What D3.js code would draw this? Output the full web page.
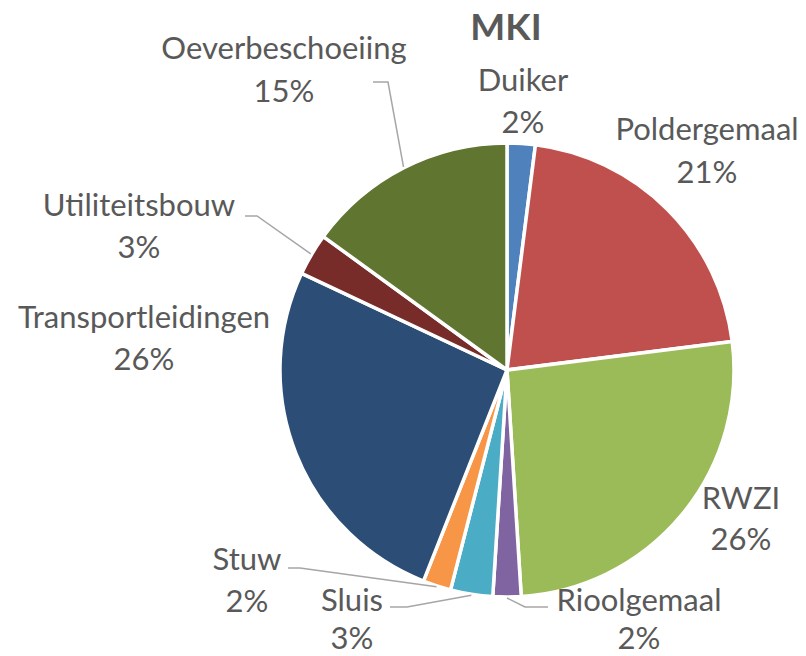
<!DOCTYPE html>
<html>
<head>
<meta charset="utf-8">
<script src="https://cdn.jsdelivr.net/npm/d3@7"></script>
<style>
  body { margin: 0; background: #fff; }
  text { font-family: Lato, "Open Sans", sans-serif; fill: #595959; }
</style>
</head>
<body>
<div class="chartContainer"></div>
<script>
// data
var categories = ['Duiker', 'Poldergemaal', 'RWZI', 'Rioolgemaal', 'Sluis', 'Stuw', 'Transportleidingen', 'Utiliteitsbouw', 'Oeverbeschoeiing']
var values = [2, 21, 26, 2, 3, 2, 26, 3, 15]
var colors = ['#4F81BD', '#C0504D', '#9BBB59', '#8064A2', '#4BACC6', '#F79646', '#2C4D75', '#772C2A', '#5F7530']

// label layout: [centre x, first baseline, line gap], optional leader start + bend
var labelPos = {
    'Duiker': { x: 523, y: 91, gap: 42 },
    'Poldergemaal': { x: 707, y: 140, gap: 43 },
    'RWZI': { x: 741, y: 509, gap: 41 },
    'Rioolgemaal': { x: 639, y: 611, gap: 38, lead: [[548, 607], [525, 607]] },
    'Sluis': { x: 352, y: 611, gap: 38, lead: [[390, 607], [407, 607]] },
    'Stuw': { x: 247, y: 570, gap: 42, lead: [[288, 568], [300, 568]] },
    'Transportleidingen': { x: 144, y: 328, gap: 42 },
    'Utiliteitsbouw': { x: 139, y: 216, gap: 42, lead: [[245, 216], [257, 216]] },
    'Oeverbeschoeiing': { x: 284, y: 59, gap: 43, lead: [[373, 82], [388, 82]] }
}

var width = 806, height = 656
var cx = 507, cy = 370, r = 227

var svg = d3.select('.chartContainer')
    .append('svg')
    .attr('width', width)
    .attr('height', height)

var total = d3.sum(values)
var pie = d3.pie().sort(null).value(function (d) { return d.value })
var arcs = pie(categories.map(function (c, i) { return { name: c, value: values[i], color: colors[i] } }))

var arc = d3.arc().innerRadius(0).outerRadius(r)
var edge = d3.arc().innerRadius(r + 1).outerRadius(r + 1)

var g = svg.append('g').attr('transform', 'translate(' + cx + ',' + cy + ')')

// slices
g.selectAll('path.slice')
    .data(arcs)
    .enter()
    .append('path')
    .classed('slice', true)
    .attr('d', arc)
    .attr('fill', function (d) { return d.data.color })
    .attr('stroke', '#fff')
    .attr('stroke-width', 3.5)
    .attr('stroke-linejoin', 'round')

// leader lines
svg.append('g')
    .selectAll('polyline')
    .data(arcs.filter(function (d) { return labelPos[d.data.name].lead }))
    .enter()
    .append('polyline')
    .attr('points', function (d) {
        var p = labelPos[d.data.name].lead
        var e = edge.centroid(d)
        return [p[0], p[1], [e[0] + cx, e[1] + cy]].map(function (q) { return q.join(',') }).join(' ')
    })
    .attr('fill', 'none')
    .attr('stroke', '#A6A6A6')
    .attr('stroke-width', 1.5)

// labels
var labels = svg.append('g')
    .selectAll('text.name')
    .data(arcs)
    .enter()
    .append('text')
    .classed('name', true)
    .attr('text-anchor', 'middle')
    .attr('font-size', 31)
    .attr('x', function (d) { return labelPos[d.data.name].x })
    .attr('y', function (d) { return labelPos[d.data.name].y })

labels.append('tspan')
    .attr('x', function (d) { return labelPos[d.data.name].x })
    .text(function (d) { return d.data.name })

labels.append('tspan')
    .attr('x', function (d) { return labelPos[d.data.name].x })
    .attr('dy', function (d) { return labelPos[d.data.name].gap })
    .text(function (d) { return Math.round(d.data.value / total * 100) + '%' })

// title
svg.append('text')
    .attr('x', 506)
    .attr('y', 40)
    .attr('text-anchor', 'middle')
    .attr('font-size', 37)
    .attr('font-weight', 'bold')
    .text('MKI')
</script>
</body>
</html>
